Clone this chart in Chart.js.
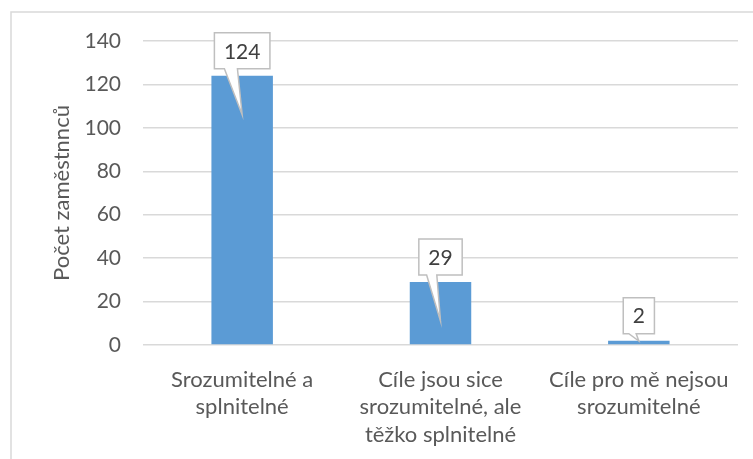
<!DOCTYPE html>
<html>
<head>
<meta charset="utf-8">
<script src="https://cdn.jsdelivr.net/npm/chart.js@4/dist/chart.umd.min.js"></script>
<style>
  html, body { margin: 0; padding: 0; background: #ffffff; }
  #wrap { position: relative; width: 753px; height: 459px; }
</style>
</head>
<body>
<div id="wrap"><canvas id="c" width="753" height="459"></canvas></div>
<script>
const categories = [
  ["Srozumitelné a", "splnitelné"],
  ["Cíle jsou sice", "srozumitelné, ale", "těžko splnitelné"],
  ["Cíle pro mě nejsou", "srozumitelné"]
];
const values = [124, 29, 2];
const yTitle = "Počet zaměstnnců";
const yMin = 0, yMax = 140, yStep = 20;

const FONT = "Lato, 'Liberation Sans', sans-serif";

const frame = {
  id: 'frame',
  beforeDraw(chart) {
    const ctx = chart.ctx;
    ctx.save();
    ctx.fillStyle = '#ffffff';
    ctx.fillRect(0, 0, chart.width, chart.height);
    ctx.strokeStyle = '#d9d9d9';
    ctx.lineWidth = 1.5;
    ctx.beginPath();
    ctx.moveTo(11, chart.height);
    ctx.lineTo(11, 12);
    ctx.lineTo(chart.width, 12);
    ctx.stroke();
    ctx.restore();
  }
};

const callouts = {
  id: 'callouts',
  afterDatasetsDraw(chart) {
    const ctx = chart.ctx;
    const meta = chart.getDatasetMeta(0);
    const base = chart.scales.y.getPixelForValue(0);
    ctx.save();
    ctx.font = '21px ' + FONT;
    meta.data.forEach((bar, i) => {
      const txt = String(chart.data.datasets[0].data[i]);
      const tw = ctx.measureText(txt).width;
      const w = tw + 19, h = 36;
      const cx = bar.x, top = bar.y;
      const bx = cx - w / 2, bBottom = top - 7, bTop = bBottom - h;
      const pl = cx - 0.32 * w, pr = cx - 0.085 * w;
      const tipY = Math.min(top + 39, base - 4);
      ctx.beginPath();
      ctx.moveTo(bx, bTop);
      ctx.lineTo(bx + w, bTop);
      ctx.lineTo(bx + w, bBottom);
      ctx.lineTo(pr, bBottom);
      ctx.lineTo(cx, tipY);
      ctx.lineTo(pl, bBottom);
      ctx.lineTo(bx, bBottom);
      ctx.closePath();
      ctx.fillStyle = '#ffffff';
      ctx.fill();
      ctx.strokeStyle = '#bfbfbf';
      ctx.lineWidth = 1.5;
      ctx.lineJoin = 'miter';
      ctx.stroke();
      ctx.fillStyle = '#404040';
      ctx.textAlign = 'center';
      ctx.textBaseline = 'middle';
      ctx.fillText(txt, cx, (bTop + bBottom) / 2 + 1);
    });
    ctx.restore();
  }
};

new Chart(document.getElementById('c'), {
  type: 'bar',
  data: {
    labels: categories,
    datasets: [{
      data: values,
      backgroundColor: '#5b9bd5',
      borderWidth: 0,
      barPercentage: 0.31,
      categoryPercentage: 1.0
    }]
  },
  options: {
    responsive: false,
    animation: false,
    devicePixelRatio: 1,
    layout: { padding: { left: 0, right: 15, top: 41, bottom: 0 } },
    plugins: { legend: { display: false }, tooltip: { enabled: false } },
    scales: {
      x: {
        grid: { display: false, drawTicks: false },
        border: { display: false },
        ticks: {
          color: '#595959',
          font: { family: FONT, size: 22, lineHeight: 1.25 },
          padding: 21,
          maxRotation: 0,
          autoSkip: false
        },
        afterFit(s) { s.height = 114; }
      },
      y: {
        min: yMin, max: yMax,
        grid: { color: '#d9d9d9', lineWidth: 1.5, drawTicks: false },
        border: { display: false },
        ticks: {
          stepSize: yStep,
          color: '#595959',
          font: { family: FONT, size: 21 },
          padding: 22
        },
        title: {
          display: true,
          text: yTitle,
          color: '#595959',
          font: { family: FONT, size: 22 },
          padding: { top: 49, bottom: 0 }
        },
        afterFit(s) { s.width = 143; }
      }
    }
  },
  plugins: [frame, callouts]
});
</script>
</body>
</html>
